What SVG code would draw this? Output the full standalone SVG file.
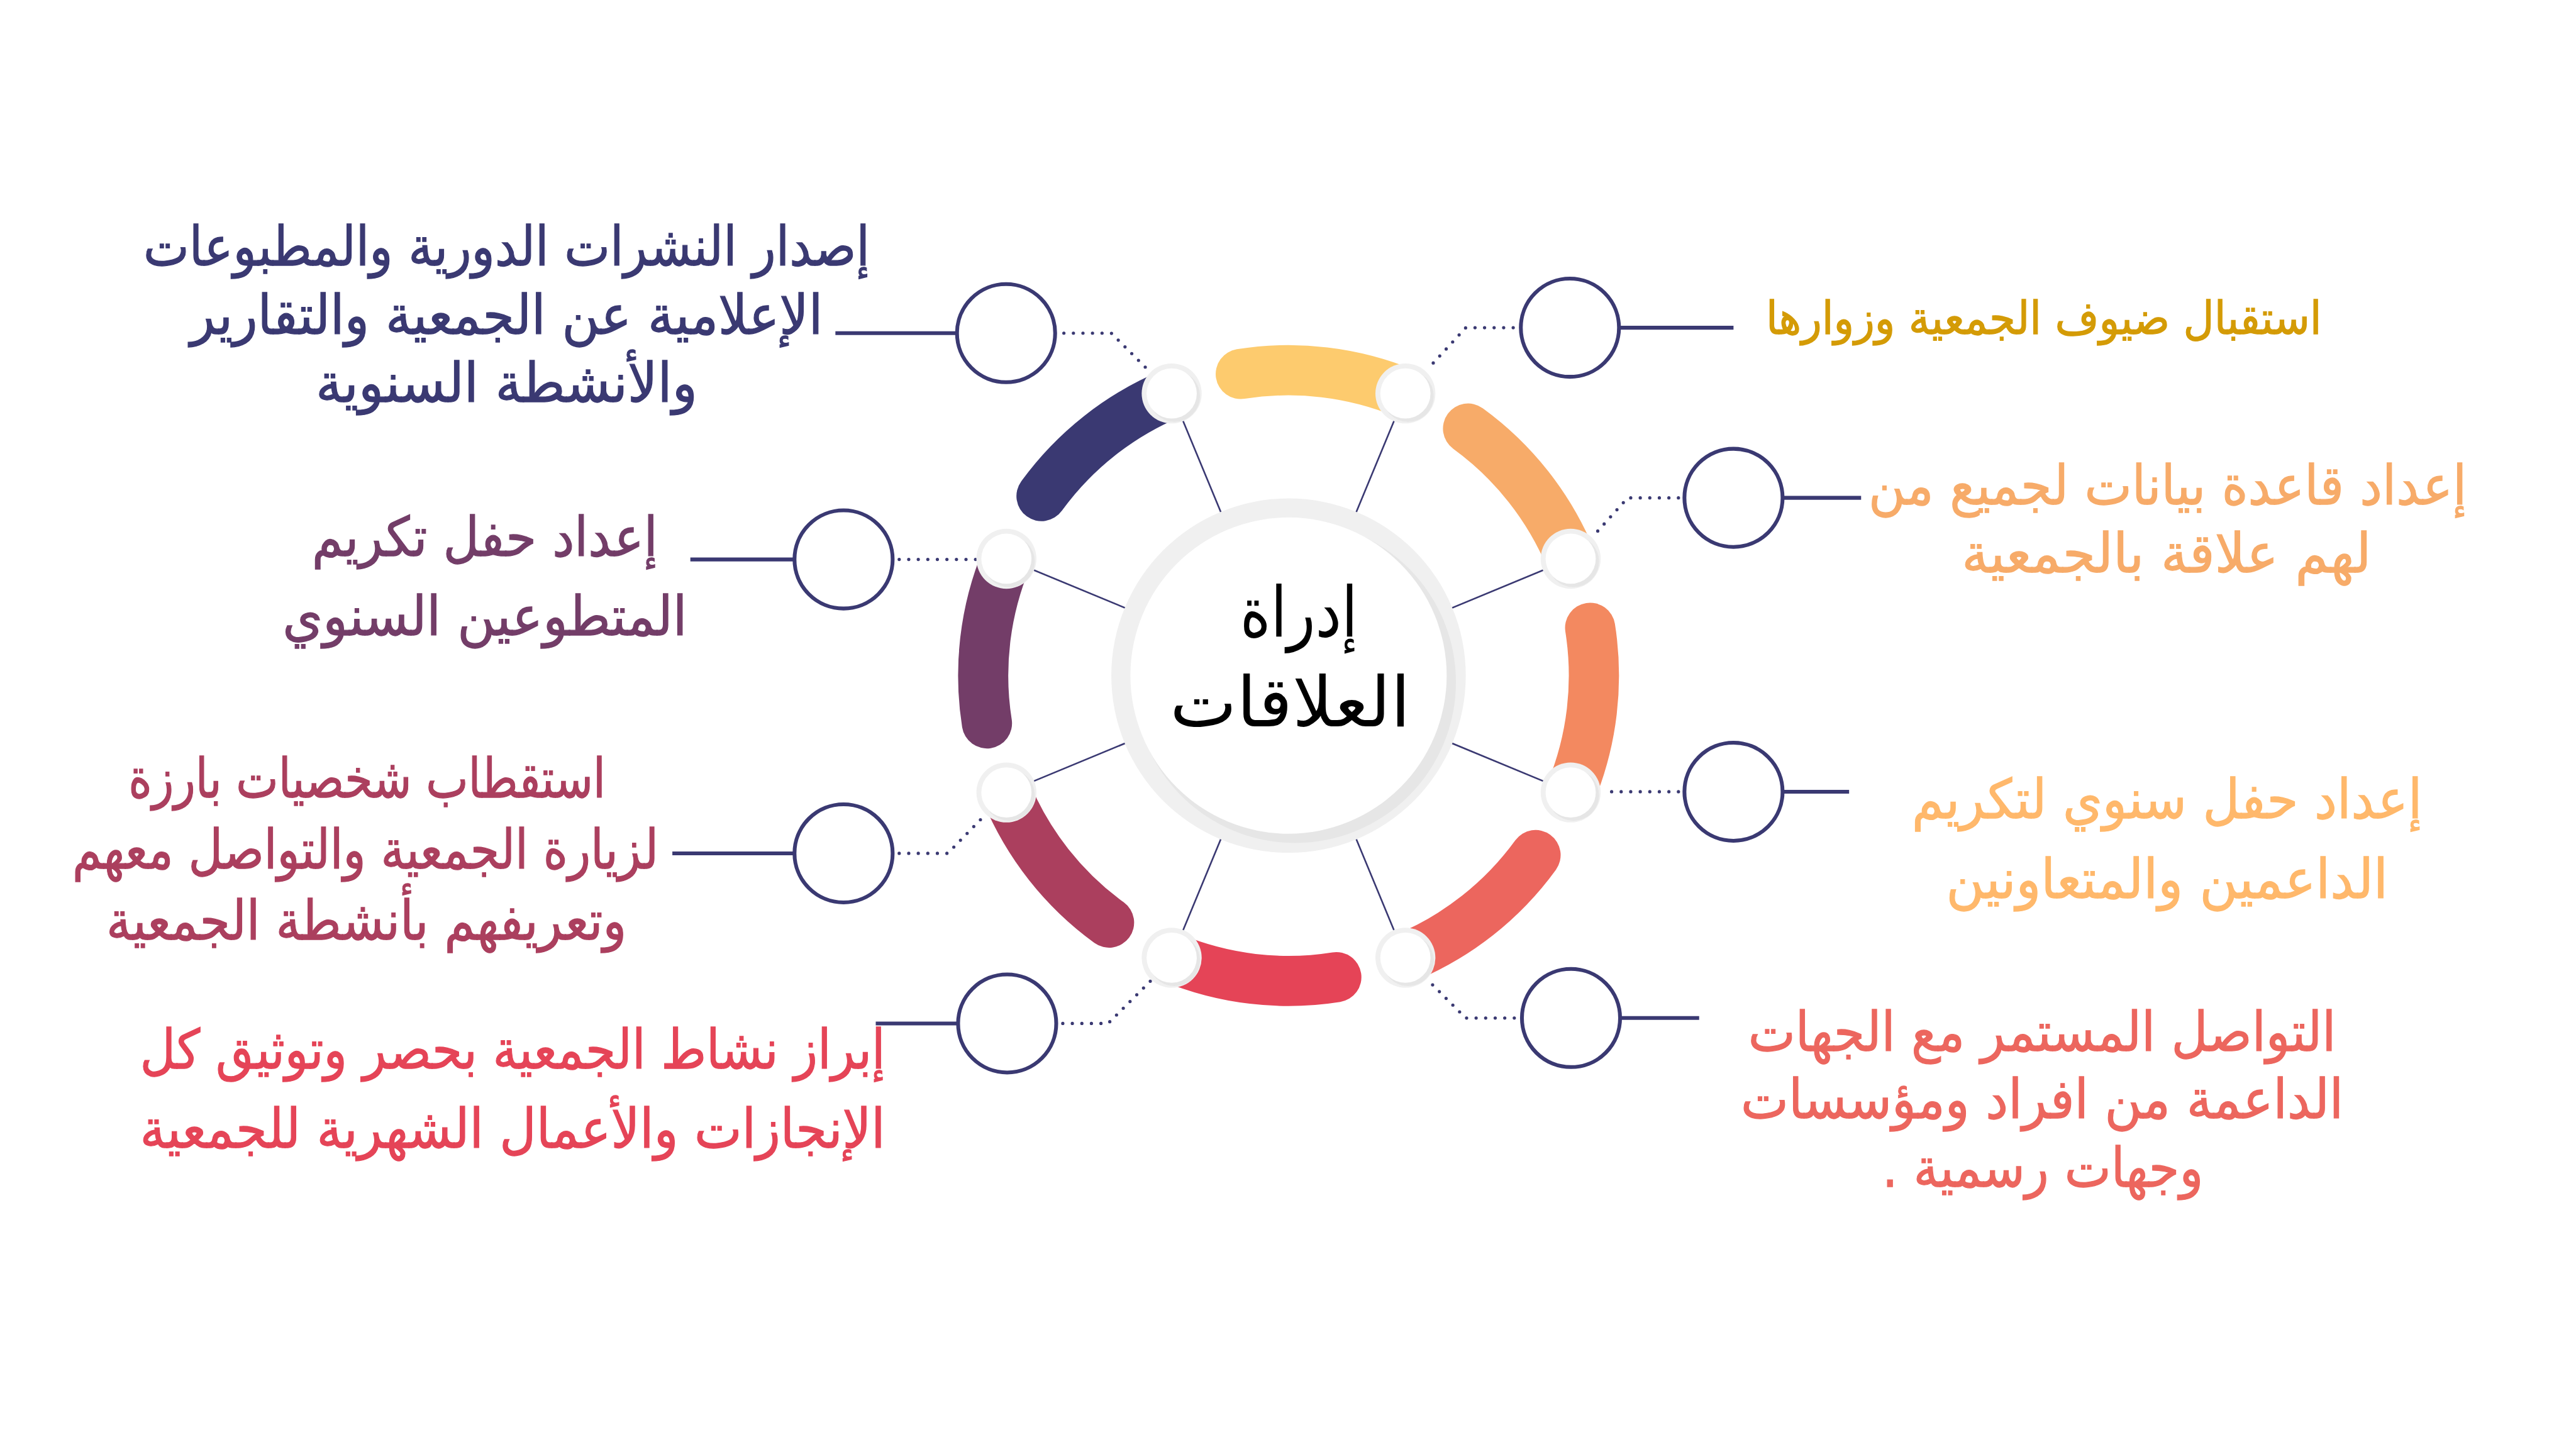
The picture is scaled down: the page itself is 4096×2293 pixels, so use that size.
<svg xmlns="http://www.w3.org/2000/svg" width="4096" height="2293" viewBox="0 0 4096 2293">
<style>
.t{font-family:"DejaVu Sans","Noto Sans",sans-serif;direction:rtl;text-anchor:middle;font-size:100px;stroke-width:1.5}
.spoke{stroke:#3a3972;stroke-width:3;fill:none}
.arc{fill:none;stroke-width:92;stroke-linecap:round}
.dots{fill:none;stroke:#3a3972;stroke-width:6;stroke-linecap:round;stroke-dasharray:0 17.5}
.oc{fill:#fff;stroke:#3a3972;stroke-width:7}
.hl{stroke:#3a3972;stroke-width:7}
.nr{fill:#f0f0f0}.ns{fill:#e6e6e6}.nw{fill:#fff}
</style>
<defs>
<g id="sn"><circle r="55" class="nr"/><circle cx="5" cy="5" r="47" class="ns"/><circle r="46" class="nw"/></g>
</defs>
<rect width="4096" height="2293" fill="#fff"/>
<g transform="scale(0.86706)">
<g id="connectors">
<g id="spokes">
<line class="spoke" x1="2363" y1="1239" x2="2577.3" y2="721.6"/>
<line class="spoke" x1="2363" y1="1239" x2="2880.4" y2="1024.7"/>
<line class="spoke" x1="2363" y1="1239" x2="2880.4" y2="1453.3"/>
<line class="spoke" x1="2363" y1="1239" x2="2577.3" y2="1756.4"/>
<line class="spoke" x1="2363" y1="1239" x2="2148.7" y2="1756.4"/>
<line class="spoke" x1="2363" y1="1239" x2="1845.6" y2="1453.3"/>
<line class="spoke" x1="2363" y1="1239" x2="1845.6" y2="1024.7"/>
<line class="spoke" x1="2363" y1="1239" x2="2148.7" y2="721.6"/>
</g>
<g id="arcs">
<path class="arc" stroke="#fdcb6e" d="M2275.4 685.9A560 560 0 0 1 2577.3 721.6"/>
<path class="arc" stroke="#f7ab69" d="M2692.2 786A560 560 0 0 1 2880.4 1024.7"/>
<path class="arc" stroke="#f38960" d="M2916.1 1151.4A560 560 0 0 1 2880.4 1453.3"/>
<path class="arc" stroke="#ec665e" d="M2816 1568.2A560 560 0 0 1 2577.3 1756.4"/>
<path class="arc" stroke="#e54457" d="M2450.6 1792.1A560 560 0 0 1 2148.7 1756.4"/>
<path class="arc" stroke="#ab3f5e" d="M2033.8 1692A560 560 0 0 1 1845.6 1453.3"/>
<path class="arc" stroke="#733d68" d="M1809.9 1326.6A560 560 0 0 1 1845.6 1024.7"/>
<path class="arc" stroke="#3a3972" d="M1910 909.8A560 560 0 0 1 2148.7 721.6"/>
</g>
<g id="dotted">
<path class="dots" d="M1951 611H2038L2110 683"/>
<path class="dots" d="M2775 601H2688L2618 677"/>
<path class="dots" d="M3078 913H2985L2920 985"/>
<path class="dots" d="M3078 1452H2938"/>
<path class="dots" d="M2777 1867H2688L2617 1796"/>
<path class="dots" d="M1949 1877H2032L2110 1799"/>
<path class="dots" d="M1649 1565H1738L1808 1493"/>
<path class="dots" d="M1649 1026H1790"/>
</g>
</g>
<g id="center">
<circle cx="2363" cy="1239" r="325" fill="#f0f0f0"/>
<circle cx="2375" cy="1251" r="295" fill="#e6e6e6"/>
<circle cx="2363" cy="1239" r="290" fill="#fff"/>
<text class="t" x="2382" y="1167" fill="#000" style="font-size:128px;stroke-width:0" textLength="216" lengthAdjust="spacingAndGlyphs">إدراة</text>
<text class="t" x="2366" y="1332" fill="#000" style="font-size:128px;stroke-width:0" textLength="441" lengthAdjust="spacingAndGlyphs">العلاقات</text>
</g>
<g id="small-nodes">
<use href="#sn" x="2577.3" y="721.6"/>
<use href="#sn" x="2880.4" y="1024.7"/>
<use href="#sn" x="2880.4" y="1453.3"/>
<use href="#sn" x="2577.3" y="1756.4"/>
<use href="#sn" x="2148.7" y="1756.4"/>
<use href="#sn" x="1845.6" y="1453.3"/>
<use href="#sn" x="1845.6" y="1024.7"/>
<use href="#sn" x="2148.7" y="721.6"/>
</g>
<g id="node-tl">
<line class="hl" x1="1532" y1="611" x2="1755" y2="611"/>
<circle class="oc" cx="1845" cy="611" r="90"/>
<text class="t" fill="#3a3972" stroke="#3a3972" x="929" y="487" textLength="1332" lengthAdjust="spacingAndGlyphs">إصدار النشرات الدورية والمطبوعات</text>
<text class="t" fill="#3a3972" stroke="#3a3972" x="929" y="612" textLength="1160" lengthAdjust="spacingAndGlyphs">الإعلامية عن الجمعية والتقارير</text>
<text class="t" fill="#3a3972" stroke="#3a3972" x="929" y="737" textLength="700" lengthAdjust="spacingAndGlyphs">والأنشطة السنوية</text>
</g>
<g id="node-l2">
<line class="hl" x1="1266" y1="1026" x2="1457" y2="1026"/>
<circle class="oc" cx="1547" cy="1026" r="90"/>
<text class="t" fill="#733d68" stroke="#733d68" x="889" y="1020" textLength="634" lengthAdjust="spacingAndGlyphs">إعداد حفل تكريم</text>
<text class="t" fill="#733d68" stroke="#733d68" x="889" y="1165" textLength="742" lengthAdjust="spacingAndGlyphs">المتطوعين السنوي</text>
</g>
<g id="node-l3">
<line class="hl" x1="1233" y1="1565" x2="1457" y2="1565"/>
<circle class="oc" cx="1547" cy="1565" r="90"/>
<text class="t" fill="#ab3f5e" stroke="#ab3f5e" x="673" y="1463" textLength="875" lengthAdjust="spacingAndGlyphs">استقطاب شخصيات بارزة</text>
<text class="t" fill="#ab3f5e" stroke="#ab3f5e" x="670" y="1593" textLength="1075" lengthAdjust="spacingAndGlyphs">لزيارة الجمعية والتواصل معهم</text>
<text class="t" fill="#ab3f5e" stroke="#ab3f5e" x="672" y="1723" textLength="954" lengthAdjust="spacingAndGlyphs">وتعريفهم بأنشطة الجمعية</text>
</g>
<g id="node-bl">
<line class="hl" x1="1606" y1="1877" x2="1757" y2="1877"/>
<circle class="oc" cx="1847" cy="1877" r="90"/>
<text class="t" fill="#e54457" stroke="#e54457" x="940" y="1960" textLength="1367" lengthAdjust="spacingAndGlyphs">إبراز نشاط الجمعية بحصر وتوثيق كل</text>
<text class="t" fill="#e54457" stroke="#e54457" x="940" y="2105" textLength="1367" lengthAdjust="spacingAndGlyphs">الإنجازات والأعمال الشهرية للجمعية</text>
</g>
<g id="node-tr">
<line class="hl" x1="2969" y1="601" x2="3179" y2="601"/>
<circle class="oc" cx="2879" cy="601" r="90"/>
<text class="t" fill="#d49b06" stroke="#d49b06" x="3748" y="612" style="font-size:84px" textLength="1019" lengthAdjust="spacingAndGlyphs">استقبال ضيوف الجمعية وزوارها</text>
</g>
<g id="node-r2">
<line class="hl" x1="3269" y1="913" x2="3413" y2="913"/>
<circle class="oc" cx="3179" cy="913" r="90"/>
<text class="t" fill="#f7ab69" stroke="#f7ab69" x="3975" y="925" textLength="1097" lengthAdjust="spacingAndGlyphs">إعداد قاعدة بيانات لجميع من</text>
<text class="t" fill="#f7ab69" stroke="#f7ab69" x="3973" y="1049" textLength="751" lengthAdjust="spacingAndGlyphs">لهم علاقة بالجمعية</text>
</g>
<g id="node-r3">
<line class="hl" x1="3269" y1="1452" x2="3391" y2="1452"/>
<circle class="oc" cx="3179" cy="1452" r="90"/>
<text class="t" fill="#ffb86b" stroke="#ffb86b" x="3974" y="1500" textLength="936" lengthAdjust="spacingAndGlyphs">إعداد حفل سنوي لتكريم</text>
<text class="t" fill="#ffb86b" stroke="#ffb86b" x="3974" y="1647" textLength="810" lengthAdjust="spacingAndGlyphs">الداعمين والمتعاونين</text>
</g>
<g id="node-r4">
<line class="hl" x1="2971" y1="1867" x2="3116" y2="1867"/>
<circle class="oc" cx="2881" cy="1867" r="90"/>
<text class="t" fill="#ec665e" stroke="#ec665e" x="3745" y="1927" textLength="1078" lengthAdjust="spacingAndGlyphs">التواصل المستمر مع الجهات</text>
<text class="t" fill="#ec665e" stroke="#ec665e" x="3745" y="2051" textLength="1105" lengthAdjust="spacingAndGlyphs">الداعمة من افراد ومؤسسات</text>
<text class="t" fill="#ec665e" stroke="#ec665e" x="3746" y="2176" textLength="589" lengthAdjust="spacingAndGlyphs">وجهات رسمية .</text>
</g>
</g>
</svg>
